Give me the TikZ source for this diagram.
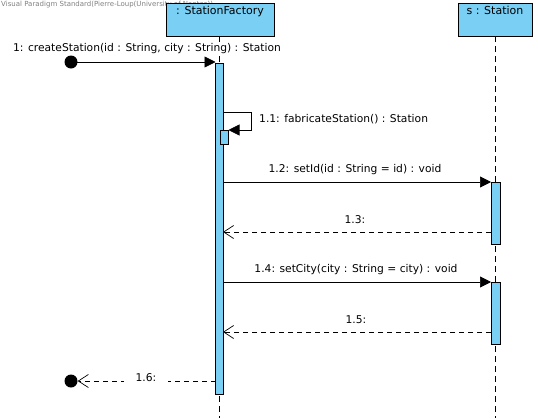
\documentclass[tikz,border=0pt]{standalone}
\usepackage{fontspec}
\setmainfont{DejaVu Sans}
\usetikzlibrary{arrows.meta}
\definecolor{vpblue}{RGB}{122,207,245}
\begin{document}
\begin{tikzpicture}[x=1pt,y=-1pt,
  lbl/.style={font=\fontsize{10.7}{12}\selectfont, inner sep=1pt},
  objbox/.style={draw=black, fill=vpblue, line width=0.8pt},
  actbar/.style={draw=black, fill=vpblue, line width=0.6pt},
  lifeline/.style={draw=black, dash pattern=on 6pt off 4pt, line width=0.7pt},
  syncmsg/.style={draw=black, line width=0.7pt, -{Triangle[length=11pt,width=11pt]}},
  retmsg/.style={draw=black, line width=0.7pt, dash pattern=on 5pt off 4pt, -{Straight Barb[length=10pt,width=13pt,line width=0.7pt]}},
  endpt/.style={circle, fill=black, inner sep=0pt, minimum size=13pt}
]
\useasboundingbox (0,0) rectangle (538,418);
% watermark
\node[anchor=north west, inner sep=0pt, text=gray, font=\fontsize{7}{8}\selectfont] (wm) at (1,1) {Visual Paradigm Standard(Pierre-Loup(University of Nantes))};
% object boxes
\draw[objbox] (166,3) rectangle (274,36);
\node[lbl, anchor=north] (sf) at (220,5) {\fontsize{11}{12}\selectfont : StationFactory};
\draw[objbox] (458,3) rectangle (532,36);
\node[lbl, anchor=north] (st) at (495,5) {\fontsize{11}{12}\selectfont s : Station};
% lifelines
\coordinate (sfl0) at (219,36); \coordinate (sfl1) at (219,418);
\coordinate (stl0) at (495,36); \coordinate (stl1) at (495,418);
\draw[lifeline] (sfl0) -- (sfl1);
\draw[lifeline] (stl0) -- (stl1);
% activation bars
\draw[actbar] (215.5,63) rectangle (223,394);
\draw[actbar] (220,130) rectangle (228.5,144);
\draw[actbar] (491,182) rectangle (500,244);
\draw[actbar] (491,282) rectangle (500,344);
% found message
\node[endpt] (start) at (71,62) {};
\coordinate (a1) at (215.5,62);
\draw[syncmsg] (start.center) -- (a1);
\node[lbl, fill=white] (l1) at (147,49) {1: createStation(id : String, city : String) : Station};
% self message
\coordinate (s0) at (223,112); \coordinate (s1) at (251,112);
\coordinate (s2) at (251,130); \coordinate (s3) at (228.5,130);
\draw[syncmsg] (s0) -- (s1) -- (s2) -- (s3);
\node[lbl, anchor=west] (l11) at (258,119) {1.1: fabricateStation() : Station};
% 1.2
\coordinate (m2a) at (223,182); \coordinate (m2b) at (491,182);
\draw[syncmsg] (m2a) -- (m2b);
\node[lbl] (l12) at (355,170) {1.2: setId(id : String = id) : void};
% 1.3
\coordinate (m3a) at (491,232); \coordinate (m3b) at (223,232);
\draw[retmsg] (m3a) -- (m3b);
\node[lbl] (l13) at (355,220) {1.3:};
% 1.4
\coordinate (m4a) at (223,282); \coordinate (m4b) at (491,282);
\draw[syncmsg] (m4a) -- (m4b);
\node[lbl] (l14) at (356,270) {1.4: setCity(city : String = city) : void};
% 1.5
\coordinate (m5a) at (491,332); \coordinate (m5b) at (223,332);
\draw[retmsg] (m5a) -- (m5b);
\node[lbl] (l15) at (356,320) {1.5:};
% 1.6
\node[endpt] (end) at (71,381) {};
\coordinate (m6a) at (215.5,381);
\draw[retmsg] (m6a) -- (end.east);
\node[lbl, fill=white, inner xsep=12pt] (l16) at (146,378) {1.6:};
\end{tikzpicture}
\end{document}
